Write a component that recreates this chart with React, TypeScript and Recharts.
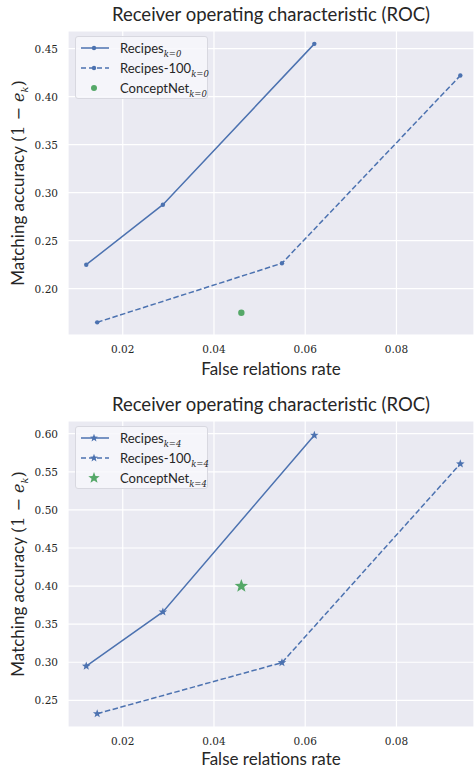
import React from 'react';
import { ScatterChart, Scatter, XAxis, YAxis, CartesianGrid } from 'recharts';

// false relations rate (x) vs matching accuracy (y)
const recipesX = [0.012, 0.0288, 0.062];
const recipes100X = [0.0144, 0.0549, 0.094];
const conceptNetX = [0.046];

const recipesK0 = [0.225, 0.2875, 0.455];
const recipes100K0 = [0.165, 0.2265, 0.422];
const conceptNetK0 = [0.175];

const recipesK4 = [0.295, 0.366, 0.598];
const recipes100K4 = [0.2325, 0.2995, 0.5605];
const conceptNetK4 = [0.4];

const xTicks = [0.02, 0.04, 0.06, 0.08];
const yTicksK0 = [0.2, 0.25, 0.3, 0.35, 0.4, 0.45];
const yTicksK4 = [0.25, 0.3, 0.35, 0.4, 0.45, 0.5, 0.55, 0.6];

const BLUE = '#4c72b0';
const GREEN = '#55a868';
const INK = '#262626';
const SANS = 'Lato, "DejaVu Sans", sans-serif';
const SERIF = 'DejaVu Serif, Liberation Serif, serif';

const zip = (xs: number[], ys: number[]) => xs.map((x, i) => ({ x, y: ys[i] }));

const starPath = (cx: number, cy: number, r: number) => {
  const pts: string[] = [];
  for (let i = 0; i < 10; i++) {
    const rad = i % 2 === 0 ? r : r * 0.42;
    const a = -Math.PI / 2 + (i * Math.PI) / 5;
    pts.push(`${cx + rad * Math.cos(a)},${cy + rad * Math.sin(a)}`);
  }
  return 'M' + pts.join('L') + 'Z';
};

const dot = (r: number, color: string) => (p: any) => (
  <circle cx={p.cx} cy={p.cy} r={r} fill={color} />
);
const star = (r: number, color: string) => (p: any) => (
  <path d={starPath(p.cx, p.cy, r)} fill={color} />
);

const XTick = (p: any) => (
  <text
    x={p.x}
    y={p.y + 10}
    textAnchor="middle"
    style={{ fontFamily: SERIF, fontSize: 10.5, fill: INK }}
  >
    {Number(p.payload.value).toFixed(2)}
  </text>
);
const YTick = (p: any) => (
  <text
    x={p.x - 2}
    y={p.y + 4}
    textAnchor="end"
    style={{ fontFamily: SERIF, fontSize: 10.5, fill: INK }}
  >
    {Number(p.payload.value).toFixed(2)}
  </text>
);

function LegendBox({ k, marker }: { k: number; marker: 'dot' | 'star' }) {
  const mk = (color: string, big: boolean) =>
    marker === 'dot' ? (
      <circle cx={14} cy={7} r={big ? 3 : 2.2} fill={color} />
    ) : (
      <path d={starPath(14, 7, big ? 6 : 4.2)} fill={color} />
    );
  const rows = [
    { name: 'Recipes', line: 'solid', color: BLUE },
    { name: 'Recipes-100', line: 'dash', color: BLUE },
    { name: 'ConceptNet', line: 'none', color: GREEN },
  ];
  return (
    <div
      style={{
        width: 133,
        height: 63,
        background: 'rgba(247,247,251,0.85)',
        border: '1px solid #d8d8e0',
        borderRadius: 3,
        fontFamily: SANS,
        fontSize: 13,
        color: INK,
        paddingTop: 1,
        boxSizing: 'border-box',
        whiteSpace: 'nowrap',
      }}
    >
      {rows.map((r) => (
        <div key={r.name} style={{ display: 'flex', alignItems: 'center', height: 20 }}>
          <svg width={40} height={14} style={{ marginLeft: 4, flex: 'none' }}>
            {r.line !== 'none' && (
              <line
                x1={1}
                x2={29}
                y1={7}
                y2={7}
                stroke={r.color}
                strokeWidth={1.5}
                strokeDasharray={r.line === 'dash' ? '5 3' : undefined}
              />
            )}
            {mk(r.color, r.line === 'none')}
          </svg>
          <span style={{ lineHeight: '14px' }}>
            {r.name}
            <sub style={{ fontFamily: SERIF, fontStyle: 'italic', fontSize: 8.5, lineHeight: 0 }}>
              k={k}
            </sub>
          </span>
        </div>
      ))}
    </div>
  );
}

function RocPanel({
  k,
  marker,
  recipes,
  recipes100,
  conceptNet,
  yDomain,
  yTicks,
  top,
  height,
  bottom,
}: {
  k: number;
  marker: 'dot' | 'star';
  recipes: number[];
  recipes100: number[];
  conceptNet: number[];
  yDomain: [number, number];
  yTicks: number[];
  top: number;
  height: number;
  bottom: number;
}) {
  const shape = marker === 'dot' ? dot(2.2, BLUE) : star(4.5, BLUE);
  const bigShape = marker === 'dot' ? dot(3.2, GREEN) : star(7, GREEN);
  const plotBottom = height - bottom;
  return (
    <div style={{ position: 'relative', width: 474, height }}>
      <ScatterChart width={474} height={height} margin={{ top, right: 0, bottom: 0, left: 0 }}>
        <CartesianGrid fill="#eaeaf2" stroke="#ffffff" strokeWidth={1.2} />
        <XAxis
          type="number"
          dataKey="x"
          domain={[0.008, 0.097]}
          allowDataOverflow
          ticks={xTicks}
          axisLine={false}
          tickLine={false}
          height={bottom}
          tick={<XTick />}
        />
        <YAxis
          type="number"
          dataKey="y"
          domain={yDomain}
          allowDataOverflow
          ticks={yTicks}
          axisLine={false}
          tickLine={false}
          width={68}
          tick={<YTick />}
        />
        <Scatter
          name="Recipes"
          data={zip(recipesX, recipes)}
          line={{ stroke: BLUE, strokeWidth: 1.5 }}
          lineType="joint"
          shape={shape}
          fill={BLUE}
          isAnimationActive={false}
        />
        <Scatter
          name="Recipes-100"
          data={zip(recipes100X, recipes100)}
          line={{ stroke: BLUE, strokeWidth: 1.5, strokeDasharray: '5.5 2.5' }}
          lineType="joint"
          shape={shape}
          fill={BLUE}
          isAnimationActive={false}
        />
        <Scatter
          name="ConceptNet"
          data={zip(conceptNetX, conceptNet)}
          shape={bigShape}
          fill={GREEN}
          isAnimationActive={false}
        />
      </ScatterChart>
      <div
        style={{
          position: 'absolute',
          top: top - 28,
          left: 68,
          width: 406,
          textAlign: 'center',
          fontFamily: SANS,
          fontSize: 18.5,
          lineHeight: '22px',
          color: INK,
        }}
      >
        Receiver operating characteristic (ROC)
      </div>
      <div
        style={{
          position: 'absolute',
          top: Math.min(plotBottom + 24, height - 20),
          left: 68,
          width: 406,
          textAlign: 'center',
          fontFamily: SANS,
          fontSize: 17,
          lineHeight: '19px',
          color: INK,
        }}
      >
        False relations rate
      </div>
      <div
        style={{
          position: 'absolute',
          left: 18 - 150,
          top: (top + plotBottom) / 2 - 11,
          width: 300,
          height: 22,
          lineHeight: '22px',
          textAlign: 'center',
          transform: 'rotate(-90deg)',
          fontFamily: SANS,
          fontSize: 17,
          color: INK,
          whiteSpace: 'nowrap',
        }}
      >
        Matching accuracy{' '}
        <span style={{ fontFamily: SERIF, fontSize: 16 }}>
          (1 − <i>e</i>
          <sub style={{ fontSize: 10, lineHeight: 0 }}>
            <i>k</i>
          </sub>
          )
        </span>
      </div>
      <div style={{ position: 'absolute', top: top + 5, left: 75 }}>
        <LegendBox k={k} marker={marker} />
      </div>
    </div>
  );
}

export default function App() {
  return (
    <div style={{ position: 'absolute', top: 0, left: 0, width: 474, height: 769, background: '#fff' }}>
      <RocPanel
        k={0}
        marker="dot"
        recipes={recipesK0}
        recipes100={recipes100K0}
        conceptNet={conceptNetK0}
        yDomain={[0.1518, 0.4684]}
        yTicks={yTicksK0}
        top={31}
        height={385}
        bottom={50}
      />
      <RocPanel
        k={4}
        marker="star"
        recipes={recipesK4}
        recipes100={recipes100K4}
        conceptNet={conceptNetK4}
        yDomain={[0.215, 0.6167]}
        yTicks={yTicksK4}
        top={36}
        height={384}
        bottom={42}
      />
    </div>
  );
}
